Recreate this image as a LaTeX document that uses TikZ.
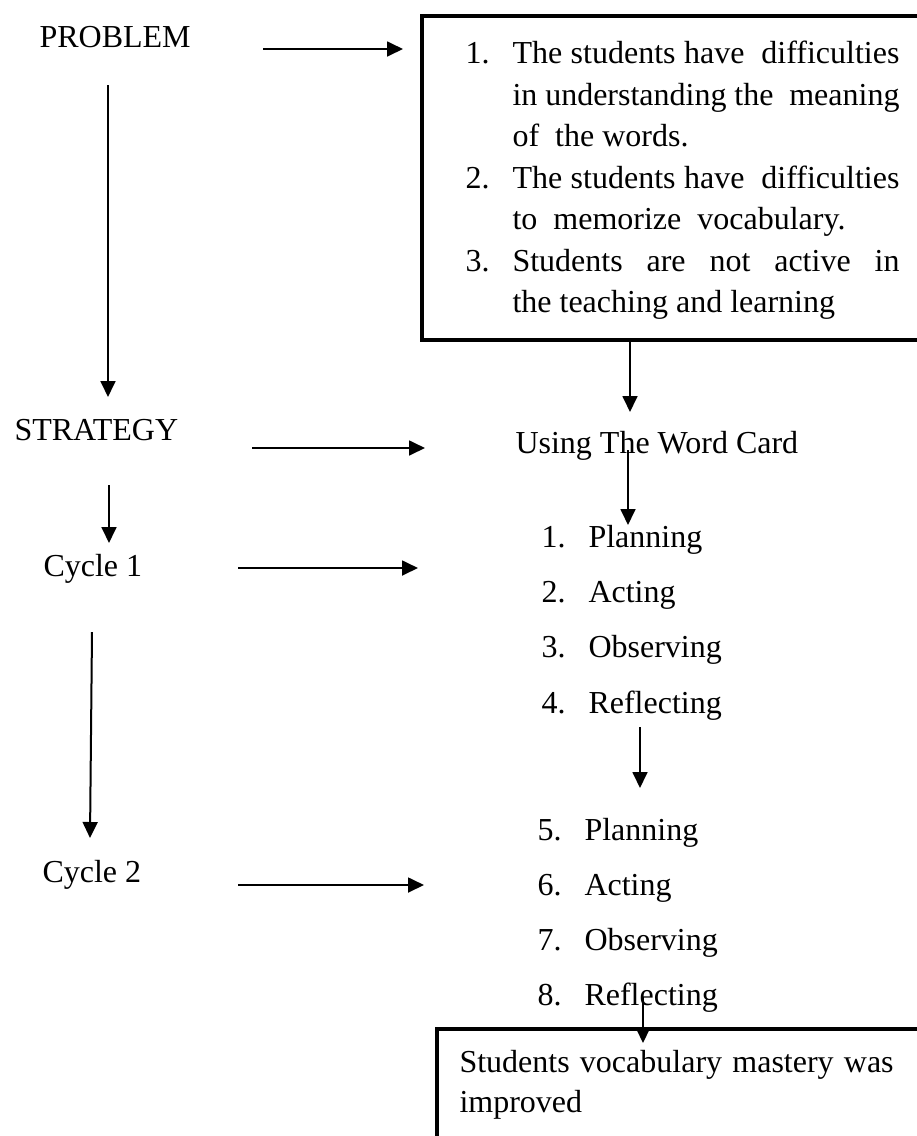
\documentclass[tikz,border=0pt]{standalone}
\usepackage{fontspec}
\setmainfont{Liberation Serif}
\usetikzlibrary{arrows.meta}
\tikzset{
  arr/.style={line width=0.75pt, -{Triangle[length=6pt,width=5.6pt]}},
  boxframe/.style={draw, line width=1.6pt},
  txt/.style={inner sep=0pt, anchor=base west, font=\fontsize{12}{15}\selectfont},
}
\newcommand{\jline}[2]{\makebox[#1][s]{#2}}
\begin{document}
\begin{tikzpicture}[x=0.375pt, y=-0.375pt]
\useasboundingbox (0,0) rectangle (916,1136);
% boxes
\draw[boxframe] (935,16) -- (422,16) -- (422,340) -- (935,340);
\coordinate (box1top) at (422,16);
\draw[boxframe] (935,1029) -- (437,1029) -- (437,1150);
% left labels
\node[txt] (problem) at (39,47) {PROBLEM};
\node[txt] (strategy) at (14,440) {STRATEGY};
\node[txt] (cycle1) at (43,576) {Cycle 1};
\node[txt] (cycle2) at (42,882) {Cycle 2};
% box1 text
\node[txt] (n1) at (465,63) {1.};
\node[txt] (l1) at (512,63) {\jline{145.1pt}{The students have \ difficulties}};
\node[txt] (l2) at (512,105) {\jline{145.1pt}{in understanding the \ meaning}};
\node[txt] (l3) at (512,146) {of \ the words.};
\node[txt] (n2) at (465,188) {2.};
\node[txt] (l4) at (512,188) {\jline{145.1pt}{The students have \ difficulties}};
\node[txt] (l5) at (512,229) {to \ memorize \ vocabulary.};
\node[txt] (n3) at (465,271) {3.};
\node[txt] (l6) at (512,271) {\jline{145.1pt}{Students are not active in}};
\node[txt] (l7) at (512,312) {the teaching and learning};
% strategy
\node[txt] (using) at (515,453) {Using The Word Card};
% list 1-4
\node[txt] (m1) at (541,547) {1.};  \node[txt] (p1) at (588,547) {Planning};
\node[txt] (m2) at (541,602) {2.};  \node[txt] (p2) at (588,602) {Acting};
\node[txt] (m3) at (541,657) {3.};  \node[txt] (p3) at (588,657) {Observing};
\node[txt] (m4) at (541,713) {4.};  \node[txt] (p4) at (588,713) {Reflecting};
% list 5-8
\node[txt] (m5) at (537,840) {5.};  \node[txt] (p5) at (584,840) {Planning};
\node[txt] (m6) at (537,895) {6.};  \node[txt] (p6) at (584,895) {Acting};
\node[txt] (m7) at (537,950) {7.};  \node[txt] (p7) at (584,950) {Observing};
\node[txt] (m8) at (537,1005) {8.}; \node[txt] (p8) at (584,1005) {Reflecting};
% box2 text
\node[txt] (r1) at (459,1072) {\jline{162.8pt}{Students vocabulary mastery was}};
\node[txt] (r2) at (459,1112) {improved};
% arrow end coordinates
\coordinate (a1s) at (263,49);  \coordinate (a1e) at (403,49);
\coordinate (a2s) at (108,85);  \coordinate (a2e) at (108,397);
\coordinate (a3s) at (252,448); \coordinate (a3e) at (425,448);
\coordinate (a4s) at (630,340); \coordinate (a4e) at (630,412);
\coordinate (a5s) at (109,485); \coordinate (a5e) at (109,543);
\coordinate (a6s) at (628,450); \coordinate (a6e) at (628,525);
\coordinate (a7s) at (238,568); \coordinate (a7e) at (418,568);
\coordinate (a8s) at (92,632);  \coordinate (a8e) at (90,838);
\coordinate (a9s) at (640,727); \coordinate (a9e) at (640,788);
\coordinate (a10s) at (238,885); \coordinate (a10e) at (424,885);
\coordinate (a11s) at (643,997); \coordinate (a11e) at (643,1043);
\foreach \i in {1,...,11} \draw[arr] (a\i s) -- (a\i e);
\end{tikzpicture}
\end{document}
